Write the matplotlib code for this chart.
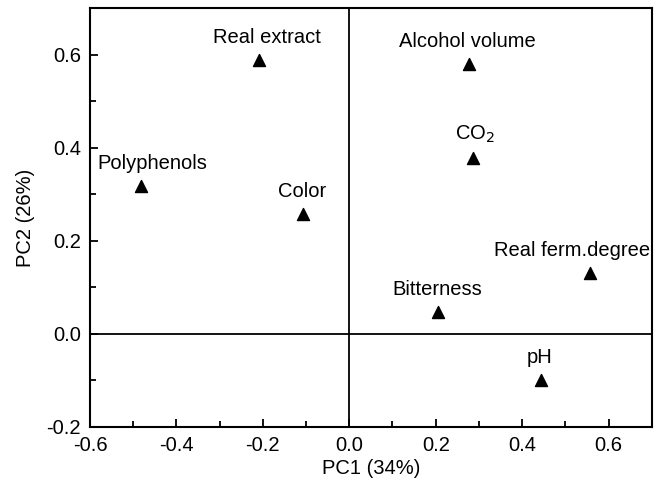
import numpy as np
import matplotlib
matplotlib.use("Agg")
import matplotlib.pyplot as plt
from matplotlib.ticker import MultipleLocator

plt.rcParams['font.family'] = ['Liberation Sans', 'DejaVu Sans']

# Cargas das variáveis (PC1, PC2)
labels = ["Real extract", "Polyphenols", "Color", "Alcohol volume", "CO$_2$",
          "Real ferm.degree", "Bitterness", "pH"]
pc1 = [-0.208, -0.482, -0.108, 0.277, 0.286, 0.558, 0.206, 0.444]
pc2 = [0.589, 0.318, 0.257, 0.580, 0.377, 0.131, 0.048, -0.100]

# deslocamento horizontal dos rótulos (pixels)
label_dx = [8, 11, 0, -2, 2, -18, -1, -2]

fs = 14.5

fig = plt.figure(figsize=(6.57, 4.83), dpi=100)
ax = fig.add_axes([0.137, 0.116, 0.855, 0.867])

ax.axhline(0, color='black', lw=1.3, zorder=1)
ax.axvline(0, color='black', lw=1.3, zorder=1)
ax.scatter(pc1, pc2, marker='^', s=75, color='black', zorder=3)

for lab, x, y, dx in zip(labels, pc1, pc2, label_dx):
    ax.annotate(lab, (x, y), xytext=(dx, 13), textcoords='offset pixels',
                ha='center', va='bottom', fontsize=fs)

ax.set_xlim(-0.6, 0.7)
ax.set_ylim(-0.2, 0.7)
ax.xaxis.set_minor_locator(MultipleLocator(0.1))
ax.yaxis.set_minor_locator(MultipleLocator(0.1))
ax.set_xticks(np.arange(-0.6, 0.61, 0.2))
ax.set_yticks(np.arange(-0.2, 0.61, 0.2))
fmt = plt.FuncFormatter(lambda v, p: f"{v:.1f}".replace("-0.0", "0.0"))
ax.xaxis.set_major_formatter(fmt)
ax.yaxis.set_major_formatter(fmt)
ax.tick_params(which='both', direction='in', top=False, right=False, labelsize=fs, width=1.3)
ax.tick_params(which='major', length=6)
ax.tick_params(which='minor', length=4)
ax.tick_params(axis='x', which='major', pad=6.5)
ax.tick_params(axis='y', which='major', pad=6.5)
for s in ax.spines.values():
    s.set_linewidth(1.5)

ax.set_xlabel("PC1 (34%)", fontsize=fs, labelpad=3)
ax.set_ylabel("PC2 (26%)", fontsize=fs, labelpad=8)

fig.savefig("out.png", dpi=100)
